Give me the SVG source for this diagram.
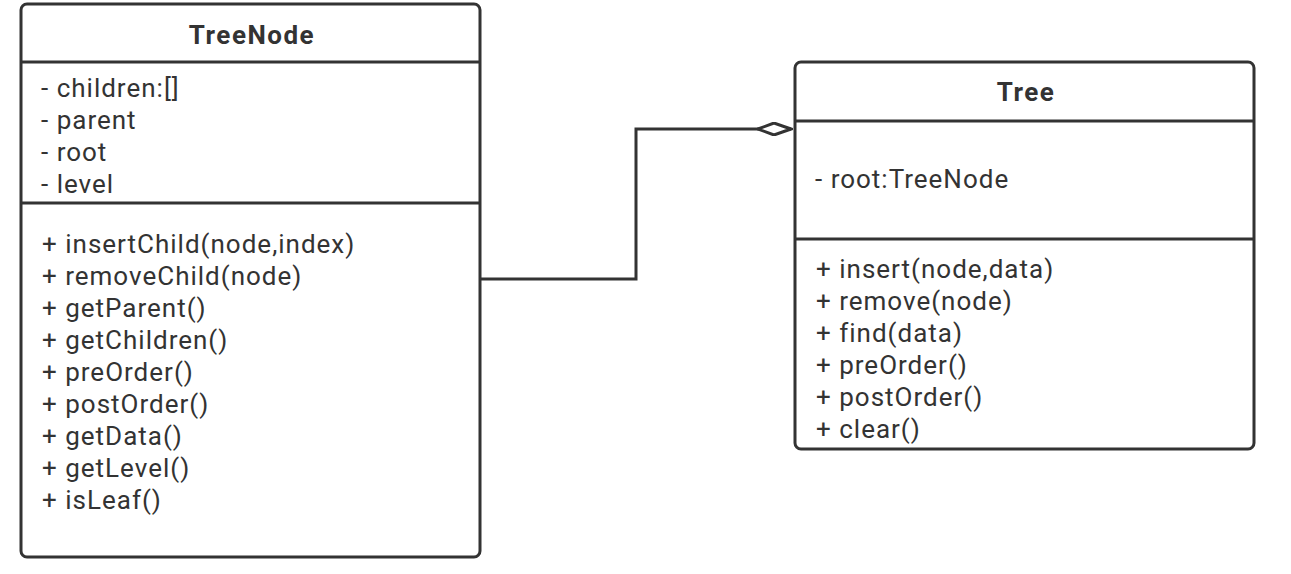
<svg xmlns="http://www.w3.org/2000/svg" width="1291" height="574" viewBox="0 0 1291 574">
<style>
.box{fill:#fff;stroke:#333;stroke-width:3}
.div{stroke:#333;stroke-width:3}
.t{font-family:Roboto,"Liberation Sans",sans-serif;font-size:26px;fill:#333;letter-spacing:1px}
.h{font-family:Roboto,"Liberation Sans",sans-serif;font-size:26px;font-weight:bold;fill:#333;text-anchor:middle;letter-spacing:1.5px}
.c{fill:none;stroke:#333;stroke-width:3}
</style>
<defs>
<marker id="diamond" markerUnits="userSpaceOnUse" markerWidth="36" markerHeight="14" refX="34" refY="7" orient="auto">
<path d="M1,7 L17,1 L34,7 L17,13 Z" fill="#fff" stroke="#333" stroke-width="3"/>
</marker>
</defs>
<rect width="1291" height="574" fill="#fff"/>
<g id="connectors">
<path class="c" d="M480,279 H636 V129 H791" marker-end="url(#diamond)"/>
</g>
<g id="TreeNode">
<rect class="box" x="21" y="4" width="459" height="553" rx="6"/>
<line class="div" x1="21" y1="62" x2="480" y2="62"/>
<line class="div" x1="21" y1="203" x2="480" y2="203"/>
<text class="h" x="252" y="44">TreeNode</text>
<text class="t" x="41" y="97">- children:[]</text>
<text class="t" x="41" y="129">- parent</text>
<text class="t" x="41" y="161">- root</text>
<text class="t" x="41" y="193">- level</text>
<text class="t" x="42" y="253">+ insertChild(node,index)</text>
<text class="t" x="42" y="285">+ removeChild(node)</text>
<text class="t" x="42" y="317">+ getParent()</text>
<text class="t" x="42" y="349">+ getChildren()</text>
<text class="t" x="42" y="381">+ preOrder()</text>
<text class="t" x="42" y="413">+ postOrder()</text>
<text class="t" x="42" y="445">+ getData()</text>
<text class="t" x="42" y="477">+ getLevel()</text>
<text class="t" x="42" y="509">+ isLeaf()</text>
</g>
<g id="Tree">
<rect class="box" x="795" y="62" width="459" height="387" rx="6"/>
<line class="div" x1="795" y1="121" x2="1254" y2="121"/>
<line class="div" x1="795" y1="239" x2="1254" y2="239"/>
<text class="h" x="1026" y="101">Tree</text>
<text class="t" x="815" y="188">- root:TreeNode</text>
<text class="t" x="816" y="278">+ insert(node,data)</text>
<text class="t" x="816" y="310">+ remove(node)</text>
<text class="t" x="816" y="342">+ find(data)</text>
<text class="t" x="816" y="374">+ preOrder()</text>
<text class="t" x="816" y="406">+ postOrder()</text>
<text class="t" x="816" y="438">+ clear()</text>
</g>
</svg>
